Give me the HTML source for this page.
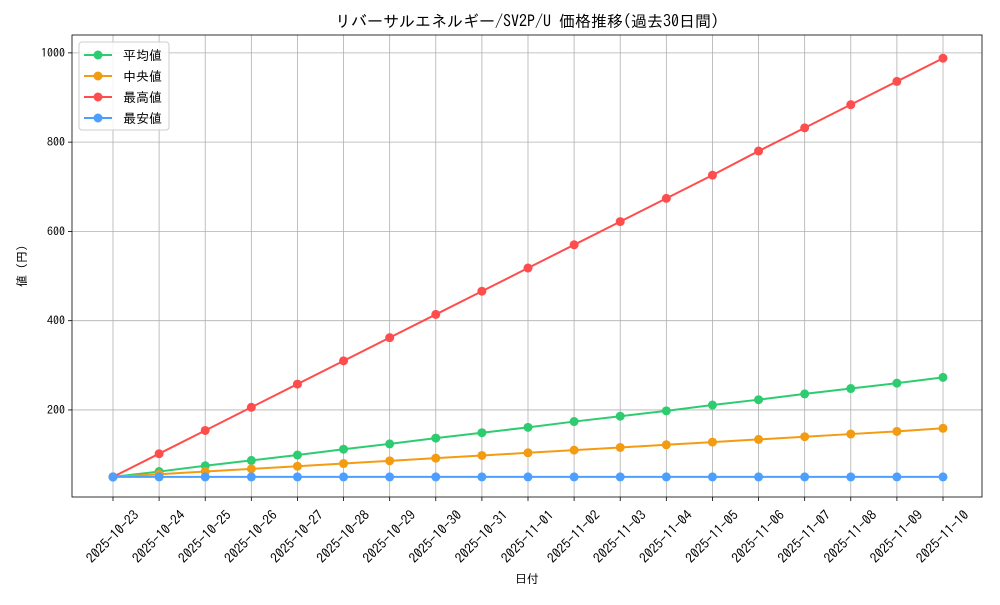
<!DOCTYPE html>
<html><head><meta charset="utf-8"><style>
body{margin:0;background:#fff;}
svg text{font-family:"IPAGothic","Noto Sans CJK JP",sans-serif;fill:#000;}
</style></head><body>
<svg id="chart" width="1000" height="600" xmlns="http://www.w3.org/2000/svg"></svg>
<script>
const categories=["2025-10-23","2025-10-24","2025-10-25","2025-10-26","2025-10-27","2025-10-28","2025-10-29","2025-10-30","2025-10-31","2025-11-01","2025-11-02","2025-11-03","2025-11-04","2025-11-05","2025-11-06","2025-11-07","2025-11-08","2025-11-09","2025-11-10"];
const meanValues=[50,62,75,87,99,112,124,137,149,161,174,186,198,211,223,236,248,260,273];
const medianValues=[50,56,62,68,74,80,86,92,98,104,110,116,122,128,134,140,146,152,159];
const maxValues=[50,102,154,206,258,310,362,414,466,518,570,622,674,726,780,832,884,936,988];
const minValues=[50,50,50,50,50,50,50,50,50,50,50,50,50,50,50,50,50,50,50];
const yTicks=[200,400,600,800,1000];
const seriesNames=["平均値","中央値","最高値","最安値"];

const svg=document.getElementById('chart');
const NS='http://www.w3.org/2000/svg';
const L=72,R=982,T=35,B=497,yMin=5,yMax=1040;
const x=i=>113+i*(943-113)/(categories.length-1);
const y=v=>B-(v-yMin)/(yMax-yMin)*(B-T);
function mk(tag,attrs,text){const e=document.createElementNS(NS,tag);for(const k in attrs)e.setAttribute(k,attrs[k]);if(text!==undefined)e.textContent=text;svg.appendChild(e);return e;}

categories.forEach((c,i)=>{
 const g=mk('line',{x1:x(i),x2:x(i),y1:T,y2:B,stroke:'#b0b0b0','stroke-width':0.8});
 
 
 mk('line',{x1:x(i),x2:x(i),y1:B,y2:B+4,stroke:'#000','stroke-width':0.8});
 const t=mk('text',{x:0,y:4,'font-size':13.5,'text-anchor':'middle',transform:`translate(${x(i)},${B+40}) rotate(-45)`},c);
 
 
});
yTicks.forEach(v=>{
 const g=mk('line',{x1:L,x2:R,y1:y(v),y2:y(v),stroke:'#b0b0b0','stroke-width':0.8});
 
 
 mk('line',{x1:L-4,x2:L,y1:y(v),y2:y(v),stroke:'#000','stroke-width':0.8});
 const t=mk('text',{x:L-7,y:y(v)+4,'font-size':12,'text-anchor':'end'},v);
 
 
});
const frame=mk('rect',{x:L,y:T,width:R-L,height:B-T,fill:'none',stroke:'#000','stroke-width':0.8});



const series=[[meanValues,'#2ecc71','mean'],[medianValues,'#f39c12','median'],[maxValues,'#ff4d4d','max'],[minValues,'#4d9fff','min']];
series.forEach(([vals,col,nm])=>{
 const p=mk('polyline',{points:vals.map((v,i)=>x(i)+','+y(v)).join(' '),fill:'none',stroke:col,'stroke-width':2});
 
 
 vals.forEach((v,i)=>{
  const c=mk('circle',{cx:x(i),cy:y(v),r:4.5,fill:col});
  
  
 });
});

const lg=mk('rect',{x:79,y:42,width:90,height:88,fill:'#fff','fill-opacity':0.85,stroke:'#ccc',rx:3});


series.forEach(([vals,col,nm],k)=>{
 const yy=55+k*21;
 mk('line',{x1:84,x2:112,y1:yy,y2:yy,stroke:col,'stroke-width':2});
 mk('circle',{cx:98,cy:yy,r:4.5,fill:col});
 const t=mk('text',{x:123,y:yy+5,'font-size':13},seriesNames[k]);
 
 
});

const title=mk('text',{x:527,y:27,'font-size':16,'text-anchor':'middle'},'リバーサルエネルギー/SV2P/U 価格推移(過去30日間)');


const xt=mk('text',{x:527,y:583,'font-size':12,'text-anchor':'middle'},'日付');


const yt=mk('text',{x:0,y:0,'font-size':12,'text-anchor':'middle',transform:'translate(26,266) rotate(-90)'},'値 (円)');


</script>
</body></html>
